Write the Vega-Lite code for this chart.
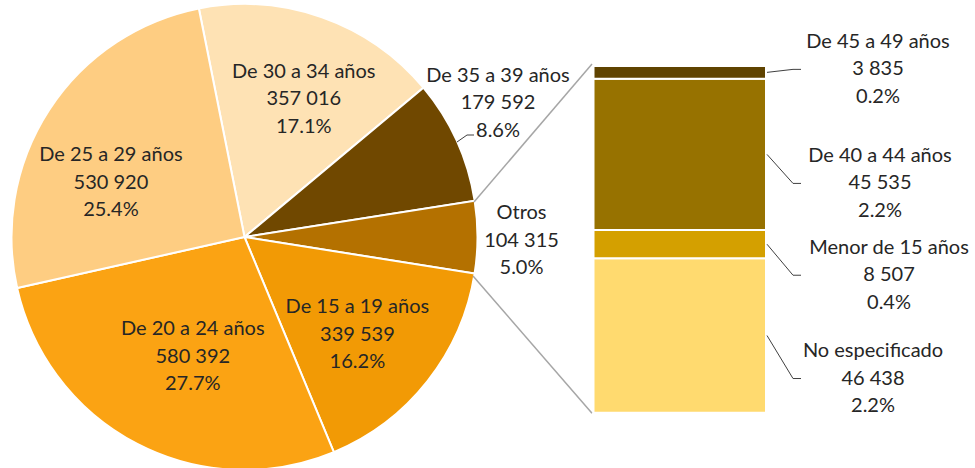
{
  "$schema": "https://vega.github.io/schema/vega-lite/v6.json",
  "width": 975,
  "height": 468,
  "autosize": {"type": "none"},
  "padding": 0,
  "background": "white",
  "config": {"view": {"stroke": null}},
  "datasets": {
    "pie": [
      {"cat": "De 30 a 34 años", "value": 357016, "pct": 17.1, "order": 1},
      {"cat": "De 35 a 39 años", "value": 179592, "pct": 8.6, "order": 2},
      {"cat": "Otros", "value": 104315, "pct": 5.0, "order": 3},
      {"cat": "De 15 a 19 años", "value": 339539, "pct": 16.2, "order": 4},
      {"cat": "De 20 a 24 años", "value": 580392, "pct": 27.7, "order": 5},
      {"cat": "De 25 a 29 años", "value": 530920, "pct": 25.4, "order": 6}
    ],
    "otros": [
      {"cat": "No especificado", "value": 46438, "pct": 2.2, "order": 1},
      {"cat": "Menor de 15 años", "value": 8507, "pct": 0.4, "order": 2},
      {"cat": "De 40 a 44 años", "value": 45535, "pct": 2.2, "order": 3},
      {"cat": "De 45 a 49 años", "value": 3835, "pct": 0.2, "order": 4}
    ]
  },
  "layer": [
    {
      "data": {"name": "pie"},
      "mark": {"type": "arc", "radius": 233, "stroke": "white", "strokeWidth": 2},
      "encoding": {
        "x": {"datum": 244.5, "type": "quantitative", "scale": {"domain": [0, 975], "nice": false, "zero": false}, "axis": null},
        "y": {"datum": 52864, "type": "quantitative", "scale": {"domain": [-16639, 124173], "nice": false, "zero": false}, "axis": null},
        "theta": {"field": "value", "type": "quantitative", "stack": true, "scale": {"range": [-0.197, 6.086]}},
        "order": {"field": "order", "type": "quantitative"},
        "color": {
          "field": "cat", "type": "nominal", "legend": null,
          "scale": {
            "domain": ["De 30 a 34 años", "De 35 a 39 años", "Otros", "De 15 a 19 años", "De 20 a 24 años", "De 25 a 29 años", "De 45 a 49 años", "De 40 a 44 años", "Menor de 15 años", "No especificado"],
            "range": ["#FEE2B4", "#704800", "#B47100", "#F29A05", "#FBA313", "#FECD82", "#5F4300", "#977200", "#D4A000", "#FFDA6F"]
          }
        }
      }
    },
    {
      "data": {"name": "pie"},
      "transform": [
        {"calculate": "datum.cat + '\\n' + replace(format(datum.value, ','), ',', ' ') + '\\n' + format(datum.pct, '.1f') + '%'", "as": "label"}
      ],
      "mark": {
        "type": "text", "font": "Lato", "fontSize": 20, "color": "#262626",
        "align": "center", "baseline": "middle", "lineBreak": "\n", "lineHeight": 27.5,
        "radius": {"expr": "datum.cat == 'De 35 a 39 años' || datum.cat == 'Otros' ? 280 : 145"},
        "dx": {"expr": "datum.cat == 'De 30 a 34 años' ? 11 : datum.cat == 'De 35 a 39 años' ? -1.5 : datum.cat == 'Otros' ? -3 : datum.cat == 'De 15 a 19 años' ? -1 : datum.cat == 'De 20 a 24 años' ? 15 : -12"},
        "dy": {"expr": "datum.cat == 'De 30 a 34 años' ? -28.5 : datum.cat == 'De 35 a 39 años' ? -45.5 : datum.cat == 'Otros' ? -24 : datum.cat == 'De 15 a 19 años' ? -19.5 : datum.cat == 'De 20 a 24 años' ? -36.5 : -2.5"}
      },
      "encoding": {
        "x": {"datum": 244.5, "type": "quantitative", "axis": null},
        "y": {"datum": 52864, "type": "quantitative", "axis": null},
        "theta": {"field": "value", "type": "quantitative", "stack": true},
        "order": {"field": "order", "type": "quantitative"},
        "text": {"field": "label", "type": "nominal"}
      }
    },
    {
      "data": {"values": [{}]},
      "mark": {"type": "rule", "color": "#A6A6A6", "strokeWidth": 1.5},
      "encoding": {
        "x": {"datum": 474, "type": "quantitative", "axis": null},
        "y": {"datum": 63395, "type": "quantitative", "axis": null},
        "x2": {"datum": 592},
        "y2": {"datum": 104917}
      }
    },
    {
      "data": {"values": [{}]},
      "mark": {"type": "rule", "color": "#A6A6A6", "strokeWidth": 1.5},
      "encoding": {
        "x": {"datum": 473, "type": "quantitative", "axis": null},
        "y": {"datum": 41130, "type": "quantitative", "axis": null},
        "x2": {"datum": 592},
        "y2": {"datum": -181}
      }
    },
    {
      "data": {"values": [{}]},
      "mark": {"type": "rule", "color": "#404040", "strokeWidth": 1},
      "encoding": {
        "x": {"datum": 457, "type": "quantitative", "axis": null},
        "y": {"datum": 81448, "type": "quantitative", "axis": null},
        "x2": {"datum": 467},
        "y2": {"datum": 83554}
      }
    },
    {
      "data": {"values": [{}]},
      "mark": {"type": "rule", "color": "#404040", "strokeWidth": 1},
      "encoding": {
        "x": {"datum": 467, "type": "quantitative", "axis": null},
        "y": {"datum": 83554, "type": "quantitative", "axis": null},
        "x2": {"datum": 474}
      }
    },
    {
      "data": {"name": "otros"},
      "transform": [
        {"stack": "value", "groupby": [], "sort": [{"field": "order"}], "as": ["y0", "y1"]}
      ],
      "mark": {"type": "rect", "stroke": "white", "strokeWidth": 2},
      "encoding": {
        "x": {"datum": 593.5, "type": "quantitative", "axis": null},
        "x2": {"datum": 766},
        "y": {"field": "y0", "type": "quantitative", "axis": null},
        "y2": {"field": "y1"},
        "color": {"field": "cat", "type": "nominal", "legend": null}
      }
    },
    {
      "data": {"name": "otros"},
      "transform": [
        {"stack": "value", "groupby": [], "sort": [{"field": "order"}], "as": ["y0", "y1"]},
        {"calculate": "(datum.y0 + datum.y1) / 2", "as": "mid"},
        {"calculate": "datum.cat == 'De 45 a 49 años' ? -3 : datum.cat == 'De 40 a 44 años' ? 29 : datum.cat == 'Menor de 15 años' ? 31 : 43", "as": "off"},
        {"calculate": "datum.mid - datum.off * 300.88", "as": "ly"}
      ],
      "layer": [
        {
          "mark": {"type": "rule", "color": "#404040", "strokeWidth": 1},
          "encoding": {
            "x": {"datum": 767, "type": "quantitative", "axis": null},
            "x2": {"datum": 793},
            "y": {"field": "mid", "type": "quantitative", "axis": null},
            "y2": {"field": "ly"}
          }
        },
        {
          "mark": {"type": "rule", "color": "#404040", "strokeWidth": 1},
          "encoding": {
            "x": {"datum": 793, "type": "quantitative", "axis": null},
            "x2": {"datum": 801},
            "y": {"field": "ly", "type": "quantitative", "axis": null}
          }
        },
        {
          "transform": [
            {"calculate": "datum.cat + '\\n' + replace(format(datum.value, ','), ',', ' ') + '\\n' + format(datum.pct, '.1f') + '%'", "as": "label"}
          ],
          "mark": {
            "type": "text", "font": "Lato", "fontSize": 20, "color": "#262626",
            "align": "center", "baseline": "middle", "lineBreak": "\n", "lineHeight": 27.5,
            "dy": -27.5,
            "dx": {"expr": "datum.cat == 'De 45 a 49 años' ? 0 : datum.cat == 'De 40 a 44 años' ? 2 : datum.cat == 'Menor de 15 años' ? 11 : -5"}
          },
          "encoding": {
            "x": {"datum": 878, "type": "quantitative", "axis": null},
            "y": {"field": "ly", "type": "quantitative", "axis": null},
            "text": {"field": "label", "type": "nominal"}
          }
        }
      ]
    }
  ]
}
